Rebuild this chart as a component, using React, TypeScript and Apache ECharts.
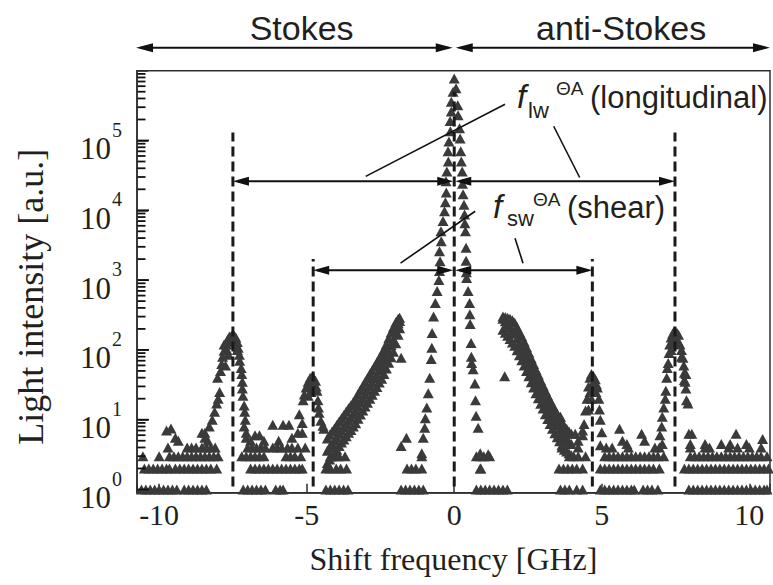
import React, { useEffect, useRef } from "react";
import * as echarts from "echarts";

const SERIF = "'Liberation Serif', 'Times New Roman', serif";
const SANS = "'Liberation Sans', Arial, Helvetica, sans-serif";
const INK = "#231f20";
const MARK = "#3a3a3a";
const AXIS = "#2e2e2e";

// Axis ranges
const FREQ_MIN = -10.75;
const FREQ_MAX = 10.7;
const INT_MIN = 0.9;
const INT_MAX = 1e6;
const xTickValues = [-10, -5, 0, 5, 10];
const yLabelDecades = [0, 1, 2, 3, 4, 5];

// Low-count floor of the spectrum (frequency positions per photon-count level)
const floorLevel1 = [
  -10.6, -10.45, -10.3, -10.15, -10.0, -9.85, -9.7, -9.55, -9.4, -9.15, -9.0, -8.85, -8.7, -8.55, -8.4,
  -7.15, -7.0, -6.85, -6.7, -6.55, -6.4, -6.05, -5.9, -5.8,
  -4.35, -4.2, -4.05, -3.9, -3.75, -3.6,
  -1.8, -1.65, -1.5, -1.35, -1.2, -1.05,
  0.75, 0.9, 1.05, 1.2, 1.35, 1.5, 1.65, 1.8,
  3.6, 3.75, 3.9, 4.15, 4.35,
  4.95, 5.1, 5.25, 5.4, 5.55, 5.7, 5.85, 6.0, 6.1,
  6.4, 6.55, 6.7, 6.9,
  7.95, 8.1, 8.25, 8.4, 8.55, 8.7, 8.85, 9.0, 9.15, 9.3, 9.45, 9.6, 9.75, 9.9, 10.05, 10.2, 10.35, 10.5, 10.6,
];
const floorLevel2 = [
  -10.5, -10.35, -10.2, -10.05, -9.9, -9.75, -9.65, -9.45, -9.3, -9.15, -9.0, -8.85, -8.7, -8.55, -8.4, -8.25, -8.05,
  -6.9, -6.75, -6.6, -6.45, -6.3, -6.15, -6.0, -5.85, -5.7, -5.55, -5.4, -5.25, -5.15,
  -4.35, -4.2, -4.0, -3.85, -3.65,
  -1.6, -1.45, -1.3, -1.1,
  0.9,
  3.55, 3.7, 3.85, 4.0, 4.15, 4.35,
  4.95, 5.1, 5.25, 5.4, 5.55, 5.7, 5.85, 6.0, 6.15, 6.3, 6.45, 6.6, 6.75, 6.95,
  7.8, 7.95, 8.1, 8.25, 8.4, 8.55, 8.7, 8.85, 9.0, 9.15, 9.3, 9.45, 9.6, 9.75, 9.9, 10.05, 10.2, 10.35, 10.5, 10.65,
];
const floorLevel3 = [
  -10.55, -10.0, -9.65, -9.5, -9.35, -9.2, -9.05, -8.9, -8.75, -8.6, -8.45, -8.3, -8.15, -8.0,
  -7.2, -7.05, -6.9, -6.75, -6.6, -6.45,
  -5.7, -5.55, -5.4, -5.2,
  -4.2, -4.05, -3.9, -3.7,
  -1.1,
  0.75, 1.0, 1.2,
  3.9, 4.05, 4.2, 4.45,
  5.1, 5.25, 5.4, 5.55, 5.7, 5.85, 6.0, 6.15, 6.3, 6.45, 6.6, 6.75, 6.9, 7.1,
  8.0, 8.15, 8.3, 8.45, 8.6, 8.75, 8.9, 9.05, 9.2, 9.35, 9.5, 9.65, 9.8, 9.95, 10.1, 10.25, 10.4, 10.6,
];
const floorLevel4 = [
  -9.7, -9.05, -8.9, -8.75, -8.55, -8.4, -8.25, -8.1,
  -7.0, -6.85, -6.7, -6.55, -6.4,
  -6.15, -6.0, -5.85, -5.65, -5.5, -5.3, -5.05,
  -4.1,
  3.65, 4.2,
  5.15, 5.35, 5.9, 6.8, 6.95,
  8.0, 8.5, 8.65, 9.3, 9.6, 10.0, 10.4,
];
// Scattered higher counts in the floor: [GHz, counts]
const floorSpikes: [number, number][] = [
  [-9.75, 7], [-9.6, 7.5], [-9.45, 5.5], [-9.35, 5], [-8.55, 6.5], [-8.45, 5.5], [-8.35, 5],
  [-7.05, 5.5], [-6.9, 5], [-6.75, 6], [-6.6, 6], [-6.45, 5], [-6.15, 8.5], [-5.95, 5],
  [-5.8, 8.5], [-5.6, 8.5], [-5.5, 5.5], [-5.3, 6.5],
  [0.9, 3], [1.15, 3.2], [5.6, 7.4], [5.7, 5], [5.85, 4.5], [6.35, 6.3], [6.45, 5], [7.05, 4.5],
  [8.05, 6.3], [8.5, 4.5], [9.05, 4.5], [9.35, 4.5], [9.55, 6.3], [9.9, 4.5], [10.45, 5.3],
  [-1.8, 77], [-1.8, 4.2], [-1.62, 5.5], [1.71, 42],
  [3.4, 12], [3.5, 9], [3.6, 11], [4.1, 6.3], [4.2, 5], [4.35, 7],
];

// Outer Stokes line near -7.5 GHz
const stokesOuter: [number, number][] = [
  [-8.45, 6.5], [-8.3, 8], [-8.2, 10], [-8.12, 13], [-8.05, 17], [-8.0, 20], [-7.95, 25], [-8.02, 40],
  [-7.92, 50], [-7.88, 63], [-7.85, 80], [-7.8, 97], [-7.72, 120], [-7.68, 140], [-7.62, 155], [-7.55, 160],
  [-7.5, 165], [-7.45, 160], [-7.4, 150], [-7.35, 130], [-7.32, 107], [-7.28, 85], [-7.27, 70], [-7.22, 55],
  [-7.2, 45], [-7.18, 35], [-7.18, 28], [-7.16, 22], [-7.12, 16], [-7.1, 13], [-7.08, 10], [-7.12, 8],
  [-7.05, 6.5], [-7.8, 120], [-7.7, 100], [-7.6, 130], [-7.5, 140], [-7.4, 120], [-7.35, 100], [-7.65, 85],
  [-7.75, 60],
];
// Inner Stokes line near -4.8 GHz
const stokesInner: [number, number][] = [
  [-5.25, 12], [-5.15, 6.5], [-5.15, 9], [-5.12, 19], [-5.08, 23], [-5.02, 29], [-4.95, 35], [-4.88, 40],
  [-4.8, 42], [-4.75, 38], [-4.7, 36], [-4.68, 30], [-4.65, 26], [-4.62, 19], [-4.6, 15], [-4.58, 12.6],
  [-4.52, 9.7], [-4.45, 8.2], [-4.42, 7.4], [-4.9, 30], [-4.85, 25], [-4.75, 28], [-4.95, 22],
];
// Inner anti-Stokes line near 4.7 GHz
const antiStokesInner: [number, number][] = [
  [4.35, 6], [4.4, 8.7], [4.45, 13.5], [4.5, 20], [4.55, 30], [4.6, 40], [4.65, 45], [4.72, 42],
  [4.78, 38], [4.82, 32], [4.85, 29], [4.9, 20], [4.92, 14], [4.95, 10], [5.0, 6.6], [4.95, 4.3],
  [4.6, 25], [4.7, 33], [4.8, 25], [4.55, 14], [4.65, 20],
];
// Outer anti-Stokes line near 7.5 GHz
const antiStokesOuter: [number, number][] = [
  [6.97, 6], [7.03, 8], [7.05, 11], [7.1, 15], [7.15, 20], [7.17, 26], [7.2, 40], [7.22, 55],
  [7.25, 65], [7.28, 90], [7.3, 120], [7.35, 150], [7.4, 170], [7.45, 185], [7.5, 180], [7.55, 175],
  [7.6, 165], [7.65, 120], [7.7, 100], [7.75, 77], [7.78, 60], [7.8, 47], [7.82, 35], [7.85, 28],
  [7.87, 19], [7.92, 17], [7.95, 6.3], [8.0, 4.5], [7.4, 130], [7.5, 140], [7.6, 130], [7.7, 80],
  [7.35, 100], [7.85, 45], [7.8, 37],
];
// Elastic (Rayleigh) line at 0 GHz
const rayleighLine: [number, number][] = [
  [-1.1, 3.3], [-1.05, 5.5], [-1.0, 7.7], [-0.98, 10.5], [-0.93, 15], [-0.88, 24], [-0.83, 40], [-0.78, 74],
  [-0.76, 107], [-0.75, 175], [-0.7, 300], [-0.64, 470], [-0.58, 700], [-0.52, 1000], [-0.5, 1350], [-0.48, 1870],
  [-0.5, 2600], [-0.44, 3600], [-0.45, 5000], [-0.38, 7000], [-0.33, 9700], [-0.3, 13000], [-0.27, 18000],
  [-0.28, 26000], [-0.25, 36000], [-0.2, 50000], [-0.21, 70000], [-0.18, 97000], [-0.13, 136000],
  [-0.14, 190000], [-0.1, 260000], [-0.1, 360000], [-0.04, 500000], [0, 770000],
  [0.06, 560000], [0.12, 320000], [0.13, 230000], [0.18, 150000], [0.2, 107000], [0.22, 70000], [0.24, 50000],
  [0.27, 36000], [0.28, 24000], [0.3, 17000], [0.33, 12000], [0.35, 8700], [0.36, 6500], [0.38, 5000],
  [0.4, 2900], [0.4, 1900], [0.41, 1300], [0.42, 1070], [0.47, 700], [0.52, 470], [0.53, 325], [0.54, 235],
  [0.57, 126], [0.58, 80], [0.59, 65], [0.64, 53], [0.7, 33], [0.72, 19], [0.74, 11.4], [0.81, 7.7],
  [0.88, 3.3], [0.88, 2],
];
// Broad Stokes wing (three overlapping scans)
const stokesWingFreq = [
  -4.3, -4.22, -4.14, -4.06, -3.98, -3.9, -3.82, -3.74, -3.66, -3.58, -3.5, -3.42, -3.34, -3.26, -3.18, -3.1,
  -3.02, -2.94, -2.86, -2.78, -2.7, -2.62, -2.54, -2.46, -2.38, -2.3, -2.22, -2.14, -2.06, -1.98, -1.9, -1.85,
];
const stokesWingHigh = [
  5.4, 6.1, 6.8, 7.5, 8.4, 9.4, 10.5, 11.7, 13.1, 14.6, 16.1, 18.0, 20.1, 23.3, 26.7, 30.5,
  34.7, 39.5, 45, 51, 58.5, 66, 76.5, 87, 102, 121, 147, 177, 212, 250, 280, 290,
];
const stokesWingMid = [
  3.6, 4.1, 4.5, 5.0, 5.6, 6.3, 7.0, 7.8, 8.7, 9.7, 10.7, 12.0, 13.4, 15.5, 17.8, 20.3,
  23.1, 26.3, 30, 34, 39, 44, 51, 58, 68, 81, 98, 118, 141, 178, 240, 260,
];
const stokesWingLow = [
  2.4, 2.7, 3.0, 3.3, 3.7, 4.2, 4.7, 5.2, 5.8, 6.5, 7.1, 8.0, 8.9, 10.3, 11.9, 13.5,
  15.4, 17.5, 20, 22.7, 26, 29.3, 34, 38.7, 45.3, 54, 65.3, 78.7, 94, 125, 165, 205,
];
// Broad anti-Stokes wing (three overlapping scans)
const antiStokesWingFreq = [
  1.65, 1.73, 1.81, 1.89, 1.97, 2.05, 2.13, 2.21, 2.29, 2.37, 2.45, 2.53, 2.61, 2.69, 2.77,
  2.85, 2.93, 3.01, 3.09, 3.17, 3.25, 3.33, 3.41, 3.49, 3.57, 3.65, 3.73, 3.81, 3.89, 3.97,
];
const antiStokesWingHigh = [
  300, 295, 290, 280, 265, 245, 212, 180, 155, 131, 109, 91, 75, 63, 52,
  44, 36.5, 31, 26, 22, 18.9, 16.1, 14, 12.2, 10.6, 9.2, 8.1, 7.4, 6.8, 6.3,
];
const antiStokesWingMid = [
  280, 257, 234, 209, 188, 170, 145, 123, 105, 89, 74, 62, 51, 43, 35.5,
  30, 25, 21.4, 17.8, 15.1, 12.9, 11, 9.5, 8.3, 7.2, 6.3, 5.5, 5.1, 4.8, 4.5,
];
const antiStokesWingLow = [
  195, 176, 160, 143, 128, 115, 99, 84, 71, 60, 50, 42, 34.5, 29, 24,
  20.3, 16.9, 14.5, 12, 10.2, 8.7, 7.4, 6.4, 5.6, 4.9, 4.3, 3.7, 3.5, 3.3, 3.1,
];

// Phonon line positions (dashed markers): [GHz, top of dashed line]
const phononLines: [number, number][] = [
  [-7.5, 1.3e5],
  [-4.78, 2000],
  [0, 5e5],
  [4.68, 2000],
  [7.48, 1.3e5],
];
const DASH_BOTTOM = 1.1;
const LONG_ARROW_LEVEL = 2.6e4;
const SHEAR_ARROW_LEVEL = 1.38e3;

const pairs = (xs: number[], ys: number[]) => xs.map((x, i) => [x, ys[i]]);
const level = (xs: number[], c: number) => xs.map((x) => [x, c]);

const spectrum = [
  ...level(floorLevel1, 1),
  ...level(floorLevel2, 2),
  ...level(floorLevel3, 3),
  ...level(floorLevel4, 4),
  ...floorSpikes,
  ...stokesOuter,
  ...stokesInner,
  ...antiStokesInner,
  ...antiStokesOuter,
  ...rayleighLine,
  ...pairs(stokesWingFreq, stokesWingHigh),
  ...pairs(stokesWingFreq, stokesWingMid),
  ...pairs(stokesWingFreq, stokesWingLow),
  ...pairs(antiStokesWingFreq, antiStokesWingHigh),
  ...pairs(antiStokesWingFreq, antiStokesWingMid),
  ...pairs(antiStokesWingFreq, antiStokesWingLow),
];

// Log ticks: decades (major) and 2..9 per decade (minor)
const majorTickValues = [1, 10, 100, 1000, 10000, 100000];
const minorTickValues: number[] = [];
for (let k = 0; k < 6; k++) {
  for (let m = 2; m <= 9; m++) minorTickValues.push(m * Math.pow(10, k));
}

function buildOption(): any {
  return {
    animation: false,
    backgroundColor: "#ffffff",
    grid: {
      left: 137,
      right: 1,
      top: 70.7,
      bottom: 92.3,
      show: true,
      borderColor: AXIS,
      borderWidth: 1.5,
      backgroundColor: "transparent",
    },
    xAxis: {
      type: "value",
      min: FREQ_MIN,
      max: FREQ_MAX,
      splitNumber: 5,
      name: "Shift frequency [GHz]",
      nameLocation: "middle",
      nameGap: 50,
      nameTextStyle: { fontFamily: SERIF, fontSize: 32, color: INK },
      axisLine: { show: true, onZero: false, lineStyle: { color: AXIS, width: 1.5 } },
      axisTick: { show: true, inside: true, length: 9, lineStyle: { color: AXIS, width: 1.5 } },
      splitLine: { show: false },
      axisLabel: {
        margin: 7,
        fontFamily: SERIF,
        fontSize: 30,
        color: INK,
        formatter: (v: number) => (xTickValues.some((t) => Math.abs(t - v) < 1e-9) ? String(v) : ""),
      },
    },
    yAxis: {
      type: "log",
      logBase: 10,
      min: INT_MIN,
      max: INT_MAX,
      name: "Light intensity [a.u.]",
      nameLocation: "middle",
      nameGap: 88,
      nameTextStyle: { fontFamily: SERIF, fontSize: 36, color: INK, padding: [0, 30, 0, 0] },
      axisLine: { show: true, onZero: false, lineStyle: { color: AXIS, width: 1.5 } },
      axisTick: { show: true, inside: true, length: 11, lineStyle: { color: AXIS, width: 1.5 } },
      minorTick: { show: false },
      splitLine: { show: false },
      axisLabel: {
        margin: 15,
        color: INK,
        formatter: (v: number) => {
          const e = Math.log10(v);
          const r = Math.round(e);
          if (Math.abs(e - r) > 1e-6 || !yLabelDecades.includes(r)) return "";
          return `{b|10}{s|${r}}`;
        },
        rich: {
          b: { fontFamily: SERIF, fontSize: 31, color: INK, lineHeight: 30, padding: [16, 0, 0, 0] },
          s: { fontFamily: SERIF, fontSize: 20, color: INK, lineHeight: 20, padding: [0, 0, 22, 1] },
        },
      },
    },
    series: [
      {
        type: "scatter",
        data: spectrum,
        symbol: "triangle",
        symbolSize: [11, 10],
        itemStyle: { color: MARK, opacity: 1 },
        silent: true,
        z: 2,
      },
      ...phononLines.map(([f, top]) => ({
        type: "line",
        data: [
          [f, DASH_BOTTOM],
          [f, top],
        ],
        symbol: "none",
        silent: true,
        lineStyle: { color: "#1a1a1a", width: 3, type: [10, 5] },
        z: 3,
      })),
    ],
  };
}

function hArrow(xa: number, xb: number, y: number, head = 16, w = 9, lw = 2) {
  const col = "#111111";
  return [
    { type: "line", silent: true, z: 100, shape: { x1: xa + 4, y1: y, x2: xb - 4, y2: y }, style: { stroke: col, lineWidth: lw } },
    {
      type: "polygon", silent: true, z: 101,
      shape: { points: [[xa, y], [xa + head, y - w / 2], [xa + head, y + w / 2]] },
      style: { fill: col },
    },
    {
      type: "polygon", silent: true, z: 101,
      shape: { points: [[xb, y], [xb - head, y - w / 2], [xb - head, y + w / 2]] },
      style: { fill: col },
    },
  ];
}

function txt(text: string, x: number, y: number, size: number, opts: any = {}) {
  return {
    type: "text",
    silent: true,
    z: 110,
    x,
    y,
    style: {
      text,
      fontSize: size,
      fontFamily: opts.family || SANS,
      fontStyle: opts.italic ? "italic" : "normal",
      fill: INK,
      textAlign: opts.align || "left",
      align: opts.align || "left",
      textVerticalAlign: "middle",
      verticalAlign: "middle",
    },
  };
}

export default function App() {
  const ref = useRef<HTMLDivElement>(null);
  useEffect(() => {
    const el = ref.current;
    if (!el) return;
    const chart = echarts.init(el, null, { renderer: "svg" });
    chart.setOption(buildOption());

    const px = (x: number, y: number) => chart.convertToPixel({ gridIndex: 0 }, [x, y]) as number[];
    const x0 = px(0, 1)[0];
    const xL = px(FREQ_MIN, 1)[0];
    const xR = px(FREQ_MAX, 1)[0];
    const yLong = px(0, LONG_ARROW_LEVEL)[1];
    const yShear = px(0, SHEAR_ARROW_LEVEL)[1];
    const yTop = 47.7;

    const seg = (a: [number, number], b: [number, number]) => {
      const p = px(a[0], a[1]);
      const q = px(b[0], b[1]);
      return { type: "line", silent: true, z: 100, shape: { x1: p[0], y1: p[1], x2: q[0], y2: q[1] }, style: { stroke: "#111111", lineWidth: 1.6 } };
    };

    // intensity-axis ticks drawn as polylines hugging the axis
    const tickMark = (v: number, len: number) => {
      const y = px(0, v)[1];
      return {
        type: "polyline", silent: true, z: 100,
        shape: { points: [[xL + 0.5, y], [xL + len, y]] },
        style: { stroke: "#111111", lineWidth: 1.8, fill: null },
      };
    };

    const graphic: any[] = [
      // Stokes / anti-Stokes ranges above the plot
      ...hArrow(xL - 1, x0 - 1.5, yTop, 17, 9, 2),
      ...hArrow(x0 + 1.5, xR, yTop, 17, 9, 2),
      txt("Stokes", (xL + x0) / 2 + 6, 28, 34, { align: "center" }),
      txt("anti-Stokes", (x0 + xR) / 2 + 9, 28, 34, { align: "center" }),
      // longitudinal-wave spacing
      ...hArrow(px(-7.5, 1)[0], x0 - 1, yLong),
      ...hArrow(x0 + 1, px(7.48, 1)[0], yLong),
      // shear-wave spacing
      ...hArrow(px(-4.78, 1)[0], x0 - 1, yShear),
      ...hArrow(x0 + 1, px(4.68, 1)[0], yShear),
      // leader lines to the labels
      seg([-3.0, 3.06e4], [1.72, 3.3e5]),
      seg([3.37, 1.6e5], [4.25, 2.95e4]),
      seg([-1.82, 1750], [0.71, 9700]),
      seg([2.06, 3980], [2.33, 1750]),
      // labels
      txt("f", 517, 96, 33, { italic: true }),
      txt("lw", 528, 110, 22),
      txt("\u0398A", 556, 88, 19),
      txt("(longitudinal)", 590, 97, 31),
      txt("f", 493, 206, 33, { italic: true }),
      txt("sw", 507, 218, 22),
      txt("\u0398A", 533, 199, 19),
      txt("(shear)", 567, 207, 31),
      // log ticks on the intensity axis
      ...majorTickValues.map((v) => tickMark(v, 12)),
      ...minorTickValues.map((v) => tickMark(v, 8.5)),
    ];
    chart.setOption({ graphic });

    return () => chart.dispose();
  }, []);

  return (
    <div
      ref={ref}
      style={{ position: "fixed", left: 0, top: 0, width: 773, height: 585, background: "#ffffff" }}
    />
  );
}
